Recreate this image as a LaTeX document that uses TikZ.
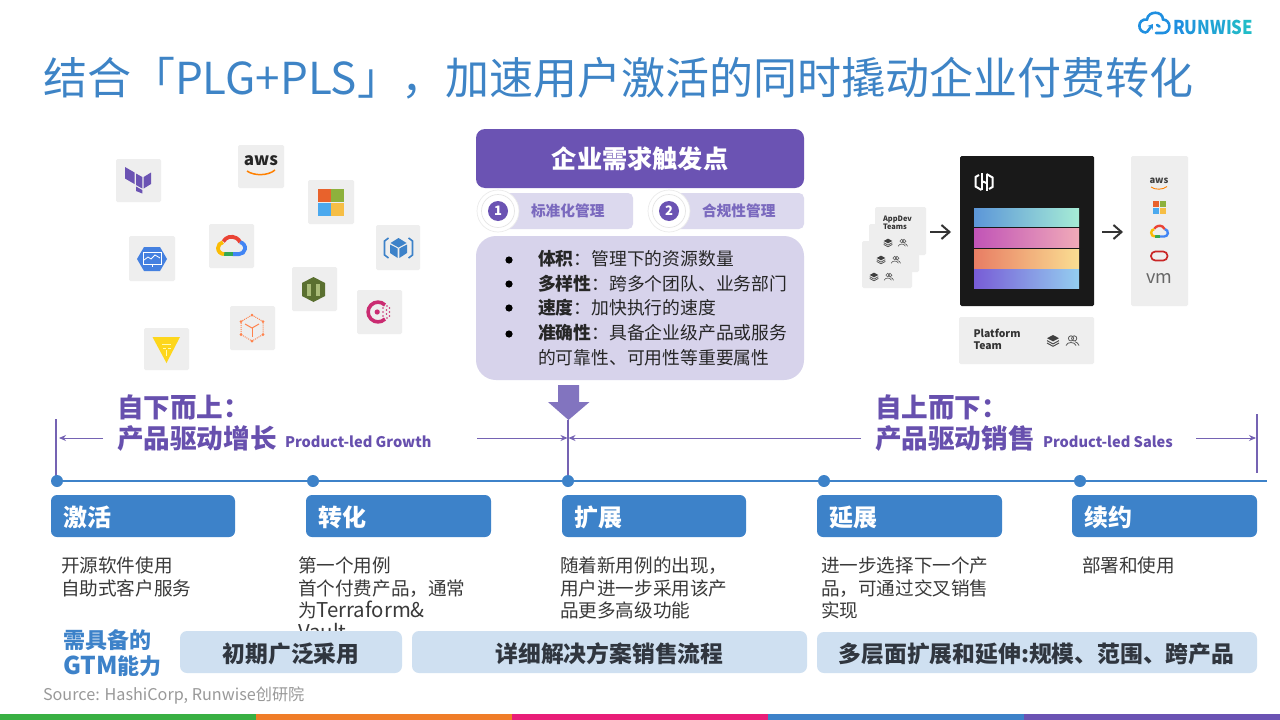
\documentclass[tikz,border=0pt]{standalone}
\usepackage{fontspec}
\setmainfont{Noto Sans CJK SC}
\setsansfont{Noto Sans CJK SC}
\usetikzlibrary{arrows.meta,shapes.geometric}
\definecolor{titleblue}{HTML}{3E84C6}
\definecolor{tabblue}{HTML}{3D82C9}
\definecolor{logoblue}{HTML}{1F8FE0}
\definecolor{logoteal}{HTML}{22BCC8}
\definecolor{hdrpurple}{HTML}{6B53B3}
\definecolor{headpurple}{HTML}{6750AE}
\definecolor{panelpurple}{HTML}{D7D3EB}
\definecolor{pillpurple}{HTML}{DCD9EE}
\definecolor{pilltext}{HTML}{7A69BE}
\definecolor{linepurple}{HTML}{7563B3}
\definecolor{arrowpurple}{HTML}{8274BF}
\definecolor{gtmbox}{HTML}{CFE0F1}
\definecolor{gtmtext}{HTML}{30363F}
\definecolor{bodytext}{HTML}{3A3A3A}
\definecolor{tilegrey}{HTML}{EEEEEE}
\definecolor{msred}{HTML}{E8622C}
\definecolor{msgreen}{HTML}{8DB13C}
\definecolor{msblue}{HTML}{4BA9EE}
\definecolor{msyellow}{HTML}{F6BE45}
\definecolor{hexblue}{HTML}{4480E0}
\definecolor{awsgreen}{HTML}{5A7030}
\definecolor{awsgreenlt}{HTML}{A9BC78}
\newcommand\fs[2]{\fontsize{#1}{#2}\selectfont}
\tikzset{
 lbl/.style={inner sep=0pt,outer sep=0pt,anchor=west},
 tile/.style={fill=tilegrey,rounded corners=1.5pt},
 tlarrow/.style={linepurple,line width=.9pt,-{Stealth[length=7pt,width=6pt]}},
 tlbar/.style={linepurple,line width=1.8pt},
 tab/.style={fill=tabblue,rounded corners=6pt},
 gtm/.style={fill=gtmbox,rounded corners=7pt},
 dot/.style={circle,fill=tabblue,minimum size=12pt,inner sep=0pt},
 tabtxt/.style={lbl,text=white,font=\fs{24}{28}\bfseries},
 body/.style={inner sep=0pt,outer sep=0pt,anchor=north west,align=left,text=bodytext,font=\fs{18.6}{22.4}},
 gtmtxt/.style={inner sep=0pt,text=gtmtext,font=\fs{22.8}{26}\bfseries},
 headtxt/.style={lbl,text=headpurple,font=\fs{26.6}{32}\bfseries},
 subtxt/.style={lbl,text=headpurple,font=\fs{14.6}{18}\bfseries},
 teamtxt/.style={inner sep=0pt,outer sep=0pt,anchor=north west,align=left,text=black!80},
 gray arrow/.style={black!80,line width=2pt,-{Straight Barb[length=8pt,width=14pt]}},
}
\newcommand\msicon[3]{\begin{scope}[shift={(#1,#2)}]
 \fill[fill=msred] (-#3-.3,-#3-.3) rectangle (-.4,-.4);
 \fill[fill=msgreen] (.4,-#3-.3) rectangle (#3+.3,-.4);
 \fill[fill=msblue] (-#3-.3,.4) rectangle (-.4,#3+.3);
 \fill[fill=msyellow] (.4,.4) rectangle (#3+.3,#3+.3);
\end{scope}}
\newcommand\gcloud[3]{\begin{scope}[shift={(#1,#2)},y=1pt,scale=#3,line cap=butt]
 \draw[line width=#3*3.8pt,color={rgb,255:red,234;green,67;blue,53}] (-8.2,4.5) arc[start angle=150,end angle=25,radius=9.5];
 \draw[line width=#3*3.8pt,color={rgb,255:red,66;green,133;blue,244}] (8.6,3.8) arc[start angle=80,end angle=-90,radius=6] -- (1,-8.1);
 \draw[line width=#3*3.8pt,color={rgb,255:red,52;green,168;blue,83}] (1,-8.1) -- (-7.5,-8.1);
 \draw[line width=#3*3.8pt,color={rgb,255:red,251;green,188;blue,4}] (-7.5,-8.1) arc[start angle=-90,end angle=-260,radius=6];
\end{scope}}
\newcommand\layersicon[3]{\begin{scope}[shift={(#1,#2)},y=1pt,scale=#3]
 \fill[black!75] (0,6)--(6,2.8)--(0,-.4)--(-6,2.8)--cycle;
 \draw[black!70,line width=#3*1pt] (-6,.4)--(0,-2.9)--(6,.4);
 \draw[black!70,line width=#3*1pt] (-6,-2)--(0,-5.3)--(6,-2);
\end{scope}}
\newcommand\peopleicon[3]{\begin{scope}[shift={(#1,#2)},y=1pt,scale=#3,black!65,line width=#3*.8pt]
 \draw (-1,2.6) circle[radius=2.6];
 \draw (2.2,2.6) circle[radius=2.6];
 \draw (-6,-4.5) .. controls (-5,-.5) and (3,-.5) .. (4,-4.5);
 \draw (3,-.8) .. controls (5,-1) and (6,-2.5) .. (7,-4.5);
\end{scope}}
\begin{document}
\begin{tikzpicture}[x=1pt,y=-1pt]
\useasboundingbox (0,0) rectangle (1280,720);
\fill[white] (0,0) rectangle (1280,720);
% title
\node[lbl,text=titleblue,font=\fs{44}{48}] (title) at (43,78.5) {结合「PLG+PLS」，加速用户激活的同时撬动企业付费转化};
% logo
\begin{scope}[shift={(1154,23)},y=1pt,line width=2.6pt,color=logoblue,line cap=round]
 \draw (-8,-9.5) .. controls (-17,-9.5) and (-17,4.5) .. (-7,3.5) .. controls (-6,12.5) and (9,12.5) .. (9,3.5) .. controls (17.5,3) and (17.5,-10) .. (9,-10) -- (2,-10);
 \draw[-{Stealth[length=5pt,width=6.5pt]}] (-7,-9) -- (-1,-1);
 \draw (3,-2) -- (5.5,-3.5);
\end{scope}
\node[lbl,font=\fs{19}{22}\bfseries,xscale=.88] (logo) at (1173,27) {\textcolor{logoblue}{R}\textcolor{logoteal!20!logoblue}{U}\textcolor{logoteal!35!logoblue}{N}\textcolor{logoteal!50!logoblue}{W}\textcolor{logoteal!70!logoblue}{I}\textcolor{logoteal!85!logoblue}{S}\textcolor{logoteal}{E}};
% logo tiles
\fill[tile] (116,159) rectangle (161,202);
\fill[tile] (238,145) rectangle (284,188);
\fill[tile] (308,180) rectangle (354,224);
\fill[tile] (376,225) rectangle (420,270);
\fill[tile] (209,224) rectangle (254,268);
\fill[tile] (129,236) rectangle (175,281);
\fill[tile] (292,267) rectangle (337,311);
\fill[tile] (357,290) rectangle (402,334);
\fill[tile] (230,306) rectangle (275,350);
\fill[tile] (144,328) rectangle (189,370);
% terraform
\fill[fill=hdrpurple] (125,167)--(134.5,172.5)--(134.5,184)--(125,178.5)--cycle;
\fill[fill=hdrpurple] (136,173.5)--(142.3,177)--(142.3,188.5)--(136,185)--cycle;
\fill[fill=hdrpurple] (143.7,177)--(151,172.5)--(151,184)--(143.7,188.5)--cycle;
\fill[fill=hdrpurple] (136,186.5)--(142.3,190)--(142.3,193.5)--(136,191)--cycle;
% aws
\node[inner sep=0pt,text=black!85,font=\fs{17}{18}\bfseries] (awsA) at (261,161) {aws};
\coordinate (awsLa) at (247,171); \coordinate (awsLb) at (275,170);
\draw[orange,line width=1.5pt] (awsLa) .. controls (254,176) and (268,176) .. (awsLb);
% microsoft
\msicon{331}{202.5}{13}
% blue cube
\begin{scope}[shift={(398.5,248)},y=1pt,color=tabblue]
 \fill (0,10)--(8,5)--(0,0.5)--(-8,5)--cycle;
 \fill (-8.5,3.5)--(-.8,-.5)--(-.8,-10)--(-8.5,-5)--cycle;
 \fill (8.5,3.5)--(.8,-.5)--(.8,-10)--(8.5,-5)--cycle;
 \draw[line width=1.6pt] (-10,10)--(-14,7)--(-14,-7)--(-10,-10);
 \draw[line width=1.6pt] (10,10)--(14,7)--(14,-7)--(10,-10);
\end{scope}
% google
\gcloud{231.5}{246}{1}
% blue hexagon
\fill[fill=hexblue] (137,259)--(144,247)--(160,247)--(167,259)--(160,271)--(144,271)--cycle;
\draw[white,line width=1pt] (143,252) rectangle (161,264);
\draw[white,line width=.8pt] (144,260)--(148,257)--(151,259)--(155,255)--(160,258);
\draw[white,line width=1pt] (152,264)--(152,267);
% green
\fill[fill=awsgreen] (313.5,277)--(325,283)--(325,296)--(313.5,302)--(302,296)--(302,283)--cycle;
\fill[fill=awsgreenlt] (307,284) rectangle (311,296);
\fill[fill=awsgreenlt] (316,284) rectangle (320,296);
% consul
\begin{scope}[shift={(378,312)},y=1pt,color={rgb,255:red,202;green,43;blue,113}]
 \draw[line width=3.6pt] (7,7) arc[start angle=45,end angle=315,radius=9.9];
 \fill (-.8,0) circle[radius=2.6];
 \foreach \a/\b in {5/0,5/4,5/-4,8.5/2,8.5/-2,9/6,9/-6,11.5/0,11.5/4,11.5/-4} {\fill (\a,\b) circle[radius=.9];}
\end{scope}
% orange cube
\begin{scope}[shift={(252,328)},y=1pt,color=orange!60!red!70!white,line width=1pt]
 \draw[densely dotted] (0,13)--(11,6.5)--(11,-6.5)--(0,-13)--(-11,-6.5)--(-11,6.5)--cycle;
 \draw (0,0)--(0,-9); \draw (0,0)--(7,4); \draw (0,0)--(-7,4);
 \foreach \a/\b in {0/13,11/6.5,11/-6.5,0/-13,-11/-6.5,-11/6.5} {\fill (\a,\b) circle[radius=1.5];}
\end{scope}
% yellow triangle
\fill[fill=yellow!70!orange!90] (152.5,337)--(180,337)--(166.5,363)--cycle;
\draw[white!70!yellow,line width=1pt] (162,344)--(171,344) (163,348)--(166,348) (168,348)--(171,348) (166.5,350)--(166.5,356);
% right schematic
\fill[tile] (875,207) rectangle (926,255);
\fill[tile] (869,224) rectangle (919,272);
\fill[tile] (862,241) rectangle (912,288);
\node[teamtxt,font=\fs{7.4}{8}\bfseries] (appdev) at (883,215.5) {AppDev\\Teams};
\layersicon{888}{243}{.72}
\peopleicon{902.5}{243}{.72}
\layersicon{881}{260}{.72}
\peopleicon{895.5}{260}{.72}
\layersicon{874}{277}{.72}
\peopleicon{888.5}{277}{.72}
\fill[fill=black!90,rounded corners=1.5pt] (960,156) rectangle (1094,306);
\coordinate (appStart) at (930,232);
\coordinate (appEnd) at (951,232);
\coordinate (cloudStart) at (1102,232);
\coordinate (cloudEnd) at (1123,232);
\draw[gray arrow] (appStart) -- (appEnd);
\draw[gray arrow] (cloudStart) -- (cloudEnd);
% hashicorp logo
\begin{scope}[shift={(984,182)},y=1pt,white,line width=2pt]
 \draw (-2.5,-8)--(-8.5,-4.5)--(-8.5,5)--(-5,7);
 \draw (2.5,8)--(8.5,4.5)--(8.5,-5)--(5,-7);
 \draw (-2.5,-8)--(-2.5,9);
 \draw (2.5,8)--(2.5,-9);
 \draw (-2.5,1)--(2.5,-1);
\end{scope}
\shade[left color={rgb,255:red,92;green,150;blue,216},right color={rgb,255:red,166;green,236;blue,214}] (974,208) rectangle (1079,226.5);
\shade[left color={rgb,255:red,193;green,84;blue,183},right color={rgb,255:red,240;green,170;blue,184}] (974,228.5) rectangle (1079,247);
\shade[left color={rgb,255:red,232;green,125;blue,100},right color={rgb,255:red,250;green,222;blue,146}] (974,249) rectangle (1079,268);
\shade[left color={rgb,255:red,120;green,92;blue,214},right color={rgb,255:red,148;green,206;blue,240}] (974,269.5) rectangle (1079,288);
\fill[tile] (959,317) rectangle (1094,364);
\node[teamtxt,font=\fs{10.4}{11.6}\bfseries] (platform) at (973.5,329) {Platform\\Team};
\layersicon{1053}{341}{1}
\peopleicon{1072}{341}{1}
\fill[tile] (1131,156) rectangle (1188,306);
\node[inner sep=0pt,text=black!75,font=\fs{9.4}{10}\bfseries] (awsB) at (1159,181) {aws};
\coordinate (awsCa) at (1151,187); \coordinate (awsCb) at (1167,186.5);
\draw[orange,line width=.9pt] (awsCa) .. controls (1155,190) and (1163,190) .. (awsCb);
\msicon{1159.5}{207.5}{6.3}
\gcloud{1159.5}{231.5}{.62}
\draw[red!75!black!85,line width=1.7pt,rounded corners=4.3pt] (1151,251.5) rectangle (1167.5,260.5);
\node[inner sep=0pt,text=black!60,font=\fs{18}{19}] (vm) at (1159.5,278) {vm};
% center
\node[fill=hdrpurple,rounded corners=9pt,minimum width=328pt,minimum height=59pt,inner sep=0pt,text=white,font=\fs{25.2}{28}\bfseries] (hdr) at (640,158.5) {企业需求触发点};
\fill[fill=pillpurple,rounded corners=5pt] (486,193) rectangle (633,229);
\fill[fill=pillpurple,rounded corners=5pt] (656,193) rectangle (804,229);
\node[circle,fill=white,draw=black!8,line width=.7pt,minimum size=42pt,inner sep=0pt] (c1o) at (498,211) {};
\node[circle,draw=black!10,line width=.7pt,minimum size=33pt,inner sep=0pt] (c1m) at (498,211) {};
\node[circle,fill=hdrpurple,minimum size=20pt,inner sep=0pt,text=white,font=\fs{13}{14}\bfseries] (c1) at (498,211) {1};
\node[circle,fill=white,draw=black!8,line width=.7pt,minimum size=42pt,inner sep=0pt] (c2o) at (669,211) {};
\node[circle,draw=black!10,line width=.7pt,minimum size=33pt,inner sep=0pt] (c2m) at (669,211) {};
\node[circle,fill=hdrpurple,minimum size=20pt,inner sep=0pt,text=white,font=\fs{13}{14}\bfseries] (c2) at (669,211) {2};
\node[lbl,text=pilltext,font=\fs{14.7}{16}\bfseries] (p1) at (531,211) {标准化管理};
\node[lbl,text=pilltext,font=\fs{14.7}{16}\bfseries] (p2) at (702,211) {合规性管理};
\fill[fill=panelpurple,rounded corners=20pt] (476,236) rectangle (804,380);
\foreach \yy in {260,284,308,334} {\fill[black] (509,\yy) circle[radius=3.6];}
\node[inner sep=0pt,outer sep=0pt,anchor=north west,align=left,text=black!85,font=\fs{17.8}{24.6}] (list) at (538,250.5) {\textbf{体积}：管理下的资源数量\\\textbf{多样性}：跨多个团队、业务部门\\\textbf{速度}：加快执行的速度\\\textbf{准确性}：具备企业级产品或服务\\的可靠性、可用性等重要属性};
\fill[fill=arrowpurple] (558,385)--(579,385)--(579,402)--(589.5,402)--(568.5,420)--(548,402)--(558,402)--cycle;
% timeline
\coordinate (tlA) at (57,481); \coordinate (tlZ) at (1267,481);
\draw[tabblue,line width=2.2pt] (tlA) -- (tlZ);
\coordinate (vLa) at (56,419); \coordinate (vLb) at (56,480);
\coordinate (vMa) at (568,420); \coordinate (vMb) at (568,480);
\coordinate (vRa) at (1257,414); \coordinate (vRb) at (1257,473);
\draw[tlbar] (vLa) -- (vLb);
\draw[tlbar] (vMa) -- (vMb);
\draw[tlbar] (vRa) -- (vRb);
\node[dot] (d1) at (57,481) {};
\node[dot] (d2) at (313,481) {};
\node[dot] (d3) at (568,481) {};
\node[dot] (d4) at (824,481) {};
\node[dot] (d5) at (1080,481) {};
\coordinate (aL1) at (103,438); \coordinate (aL2) at (59,438);
\coordinate (aM1) at (477,438); \coordinate (aM2) at (567.5,438);
\coordinate (aN1) at (861,438); \coordinate (aN2) at (568.5,438);
\coordinate (aR1) at (1196,438); \coordinate (aR2) at (1256,438);
\draw[tlarrow] (aL1) -- (aL2);
\draw[tlarrow] (aM1) -- (aM2);
\draw[tlarrow] (aN1) -- (aN2);
\draw[tlarrow] (aR1) -- (aR2);
\node[headtxt] (h1a) at (117,407) {自下而上：};
\node[headtxt] (h1b) at (117,439) {产品驱动增长};
\node[subtxt] (h1c) at (285,441.5) {Product-led Growth};
\node[headtxt] (h2a) at (875,407) {自上而下：};
\node[headtxt] (h2b) at (875,439) {产品驱动销售};
\node[subtxt] (h2c) at (1043,441.5) {Product-led Sales};
% tabs
\fill[tab] (51,495) rectangle (235,537);
\fill[tab] (306,495) rectangle (491,537);
\fill[tab] (562,495) rectangle (746,537);
\fill[tab] (817,495) rectangle (1002,537);
\fill[tab] (1072,495) rectangle (1257,537);
\node[tabtxt] (t1) at (63,517) {激活};
\node[tabtxt] (t2) at (318,517) {转化};
\node[tabtxt] (t3) at (574,517) {扩展};
\node[tabtxt] (t4) at (829,517) {延展};
\node[tabtxt] (t5) at (1084,517) {续约};
% body text
\node[body] (b1) at (61,557) {开源软件使用\\自助式客户服务};
\node[body] (b2) at (298,557) {第一个用例\\首个付费产品，通常\\为{\fs{20.4}{22.4}Terraform\&}\\{\fs{20.4}{22.4}Vault}};
\node[body] (b3) at (560,557) {随着新用例的出现，\\用户进一步采用该产\\品更多高级功能};
\node[body] (b4) at (821,557) {进一步选择下一个产\\品，可通过交叉销售\\实现};
\node[body] (b5) at (1082,557) {部署和使用};
% GTM
\node[inner sep=0pt,outer sep=0pt,anchor=north west,align=left,text=tabblue,font=\fs{22}{26}\bfseries] (gtmlabel) at (63,630) {需具备的\\{\fs{24.5}{26}GTM}能力};
\fill[gtm] (180,631) rectangle (402,673);
\fill[gtm] (412,631) rectangle (807,673);
\fill[gtm] (817,632) rectangle (1257,673);
\node[gtmtxt] (g1) at (291,654) {初期广泛采用};
\node[gtmtxt] (g2) at (609.5,654) {详细解决方案销售流程};
\node[gtmtxt] (g3) at (1036.5,654) {多层面扩展和延伸:规模、范围、跨产品};
\node[lbl,text=black!40,font=\fs{16.2}{18}] (src) at (43,695) {Source: HashiCorp, Runwise创研院};
% bottom bars
\fill[fill={rgb,255:red,57;green,176;blue,67}] (0,714) rectangle (256,720);
\fill[fill={rgb,255:red,240;green,125;blue,40}] (256,714) rectangle (512,720);
\fill[fill={rgb,255:red,233;green,30;blue,120}] (512,714) rectangle (768,720);
\fill[fill=tabblue] (768,714) rectangle (1024,720);
\fill[fill=hdrpurple] (1024,714) rectangle (1280,720);
\end{tikzpicture}
\end{document}
